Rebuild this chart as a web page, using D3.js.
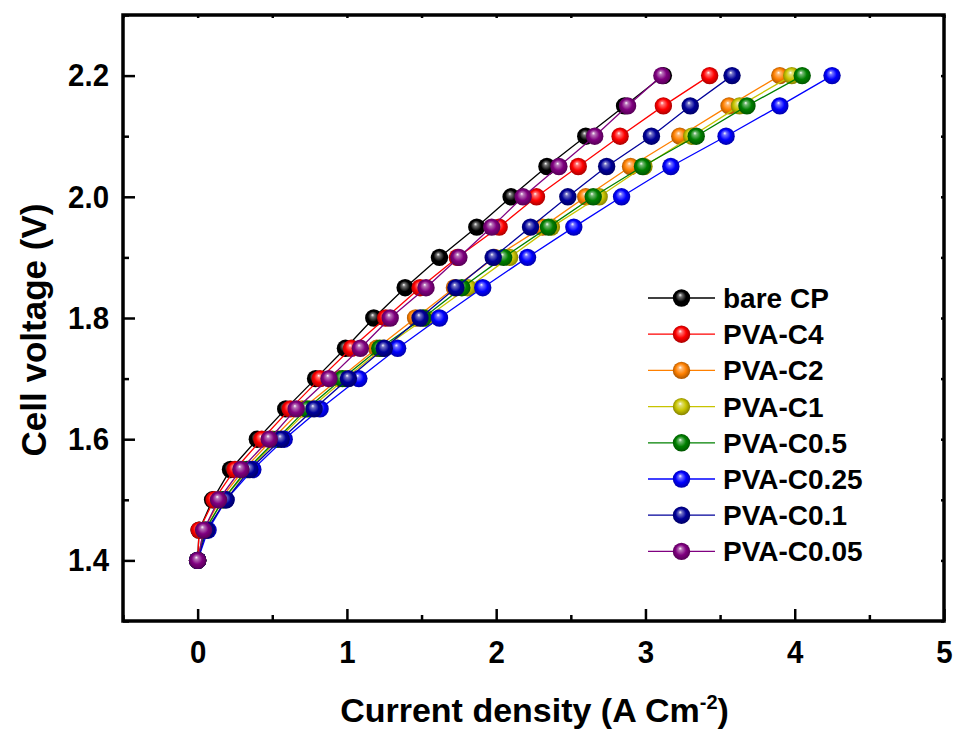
<!DOCTYPE html>
<html>
<head>
<meta charset="utf-8">
<script src="https://cdn.jsdelivr.net/npm/d3@7"></script>
<style>
  html, body { margin: 0; padding: 0; background: #fff; }
  svg { display: block; font-family: "Liberation Sans", Arial, sans-serif; }
</style>
</head>
<body>
<svg id="chart" width="960" height="735"></svg>
<script>
// Polarisation curves: cell voltage vs. current density for each electrode
const voltages = [1.40, 1.45, 1.50, 1.55, 1.60, 1.65, 1.70, 1.75, 1.80, 1.85, 1.90, 1.95, 2.00, 2.05, 2.10, 2.15, 2.20];

const seriesNames = ["bare CP", "PVA-C4", "PVA-C2", "PVA-C1", "PVA-C0.5", "PVA-C0.25", "PVA-C0.1", "PVA-C0.05"];
const seriesColors = ["#000000", "#ff0000", "#ff8000", "#c8c400", "#008000", "#0000ff", "#00009a", "#800080"];

const bareCP    = [0, 0.01, 0.10, 0.22, 0.40, 0.59, 0.79, 0.99, 1.18, 1.39, 1.62, 1.87, 2.10, 2.34, 2.60, 2.86, 3.12];
const pvaC4     = [0, 0.01, 0.11, 0.25, 0.43, 0.62, 0.82, 1.03, 1.26, 1.49, 1.74, 2.02, 2.27, 2.55, 2.83, 3.12, 3.43];
const pvaC2     = [0, 0.04, 0.15, 0.31, 0.50, 0.70, 0.95, 1.20, 1.46, 1.72, 1.99, 2.31, 2.60, 2.90, 3.23, 3.56, 3.90];
const pvaC1     = [0, 0.05, 0.17, 0.34, 0.54, 0.75, 0.99, 1.24, 1.53, 1.81, 2.09, 2.37, 2.69, 2.99, 3.31, 3.63, 3.98];
const pvaC05    = [0, 0.05, 0.17, 0.33, 0.53, 0.73, 0.97, 1.22, 1.51, 1.77, 2.05, 2.35, 2.65, 2.98, 3.34, 3.68, 4.05];
const pvaC025   = [0, 0.07, 0.19, 0.37, 0.58, 0.82, 1.08, 1.34, 1.62, 1.91, 2.21, 2.52, 2.84, 3.17, 3.54, 3.90, 4.25];
const pvaC01    = [0, 0.06, 0.19, 0.35, 0.56, 0.78, 1.01, 1.25, 1.49, 1.73, 1.98, 2.23, 2.48, 2.74, 3.04, 3.30, 3.58];
const pvaC005   = [0, 0.04, 0.14, 0.29, 0.48, 0.66, 0.88, 1.09, 1.29, 1.53, 1.75, 1.97, 2.18, 2.42, 2.66, 2.88, 3.11];

const seriesValues = [bareCP, pvaC4, pvaC2, pvaC1, pvaC05, pvaC025, pvaC01, pvaC005];

const xTickValues = [0, 1, 2, 3, 4, 5];
const yTickValues = [1.4, 1.6, 1.8, 2.0, 2.2];

const xTitle = "Current density (A Cm";
const xTitleSup = "-2";
const yTitle = "Cell voltage (V)";

// ---- layout ----
const plot = { left: 123, right: 944, top: 15, bottom: 621 };
const svg = d3.select("#chart");

const x = d3.scaleLinear().domain([-0.5, 5]).range([plot.left, plot.right]);
const y = d3.scaleLinear().domain([1.3, 2.3]).range([plot.bottom, plot.top]);

// sphere-shaded markers
const defs = svg.append("defs");
seriesColors.forEach((c, i) => {
  const base = d3.color(c);
  const g = defs.append("radialGradient")
    .attr("id", "ball" + i)
    .attr("cx", "50%").attr("cy", "50%").attr("r", "55%")
    .attr("fx", "42%").attr("fy", "32%");
  g.append("stop").attr("offset", "0%").attr("stop-color", "#ffffff");
  g.append("stop").attr("offset", "18%").attr("stop-color", d3.interpolateRgb(c, "#ffffff")(0.45));
  g.append("stop").attr("offset", "55%").attr("stop-color", c);
  g.append("stop").attr("offset", "100%").attr("stop-color", base.darker(1.4).formatHex());
});

// ---- axes (inward ticks, box frame) ----
const tickFont = "bold 32px 'Liberation Sans', Arial, sans-serif";

const xAxis = svg.append("g").attr("transform", `translate(0,${plot.bottom})`)
  .call(d3.axisBottom(x).tickValues(xTickValues).tickSize(-12).tickPadding(19).tickFormat(d3.format("d")));
const xMinor = svg.append("g").attr("transform", `translate(0,${plot.bottom})`)
  .call(d3.axisBottom(x).tickValues([-0.5, 0.5, 1.5, 2.5, 3.5, 4.5]).tickSize(-6).tickFormat(""));

const yAxis = svg.append("g").attr("transform", `translate(${plot.left},0)`)
  .call(d3.axisLeft(y).tickValues(yTickValues).tickSize(-12).tickPadding(14).tickFormat(d3.format(".1f")));
const yMinor = svg.append("g").attr("transform", `translate(${plot.left},0)`)
  .call(d3.axisLeft(y).tickValues([1.3, 1.5, 1.7, 1.9, 2.1, 2.3]).tickSize(-6).tickFormat(""));

const xTop = svg.append("g").attr("transform", `translate(0,${plot.top})`)
  .call(d3.axisTop(x).tickValues(d3.range(-0.5, 5.01, 0.5)).tickSize(-3).tickFormat(""));
const yRight = svg.append("g").attr("transform", `translate(${plot.right},0)`)
  .call(d3.axisRight(y).tickValues(d3.range(1.3, 2.31, 0.1)).tickSize(-3).tickFormat(""));

[xAxis, xMinor, yAxis, yMinor, xTop, yRight].forEach(a => {
  a.select(".domain").remove();
  a.selectAll(".tick line").attr("stroke", "#000").attr("stroke-width", 2.5);
  a.selectAll(".tick text").style("font", tickFont).attr("fill", "#000");
});
xAxis.selectAll(".tick text").attr("dy", "0.71em");
// slightly condensed numerals
xAxis.selectAll(".tick text").attr("transform", "scale(0.92,1)");
yAxis.selectAll(".tick text").attr("transform", "scale(0.92,1)").attr("x", -14 / 0.92);

svg.append("rect")
  .attr("x", plot.left).attr("y", plot.top)
  .attr("width", plot.right - plot.left).attr("height", plot.bottom - plot.top)
  .attr("fill", "none").attr("stroke", "#000").attr("stroke-width", 3.5);

// ---- axis titles ----
const xt = svg.append("text")
  .attr("x", (plot.left + plot.right) / 2 + 1).attr("y", 722)
  .attr("text-anchor", "middle")
  .style("font", "bold 34px 'Liberation Sans', Arial, sans-serif");
xt.append("tspan").text(xTitle);
xt.append("tspan").attr("dy", -13).style("font-size", "20px").text(xTitleSup);
xt.append("tspan").attr("dy", 13).text(")");

svg.append("text")
  .attr("transform", `translate(46,330) rotate(-90)`)
  .attr("text-anchor", "middle")
  .style("font", "bold 35px 'Liberation Sans', Arial, sans-serif")
  .text(yTitle);

// ---- series ----
const line = d3.line().x(d => x(d[0])).y(d => y(d[1]));
const r = 8.7;

seriesValues.forEach((vals, i) => {
  const pts = vals.map((v, k) => [v, voltages[k]]);
  const g = svg.append("g");
  g.append("path").datum(pts)
    .attr("d", line).attr("fill", "none")
    .attr("stroke", seriesColors[i]).attr("stroke-width", 1.3);
  g.selectAll("circle").data(pts).enter().append("circle")
    .attr("cx", d => x(d[0])).attr("cy", d => y(d[1])).attr("r", r)
    .attr("fill", `url(#ball${i})`);
});

// ---- legend ----
const legend = svg.append("g").attr("transform", "translate(648,298)");
seriesNames.forEach((name, i) => {
  const row = legend.append("g").attr("transform", `translate(0,${i * 36.2})`);
  row.append("line").attr("x1", 0).attr("x2", 67).attr("y1", 0).attr("y2", 0)
    .attr("stroke", seriesColors[i]).attr("stroke-width", 1.3);
  row.append("circle").attr("cx", 33.5).attr("cy", 0).attr("r", r).attr("fill", `url(#ball${i})`);
  row.append("text").attr("x", 75).attr("y", 0).attr("dy", "0.36em")
    .style("font", "bold 28px 'Liberation Sans', Arial, sans-serif")
    .text(name);
});
</script>
</body>
</html>
